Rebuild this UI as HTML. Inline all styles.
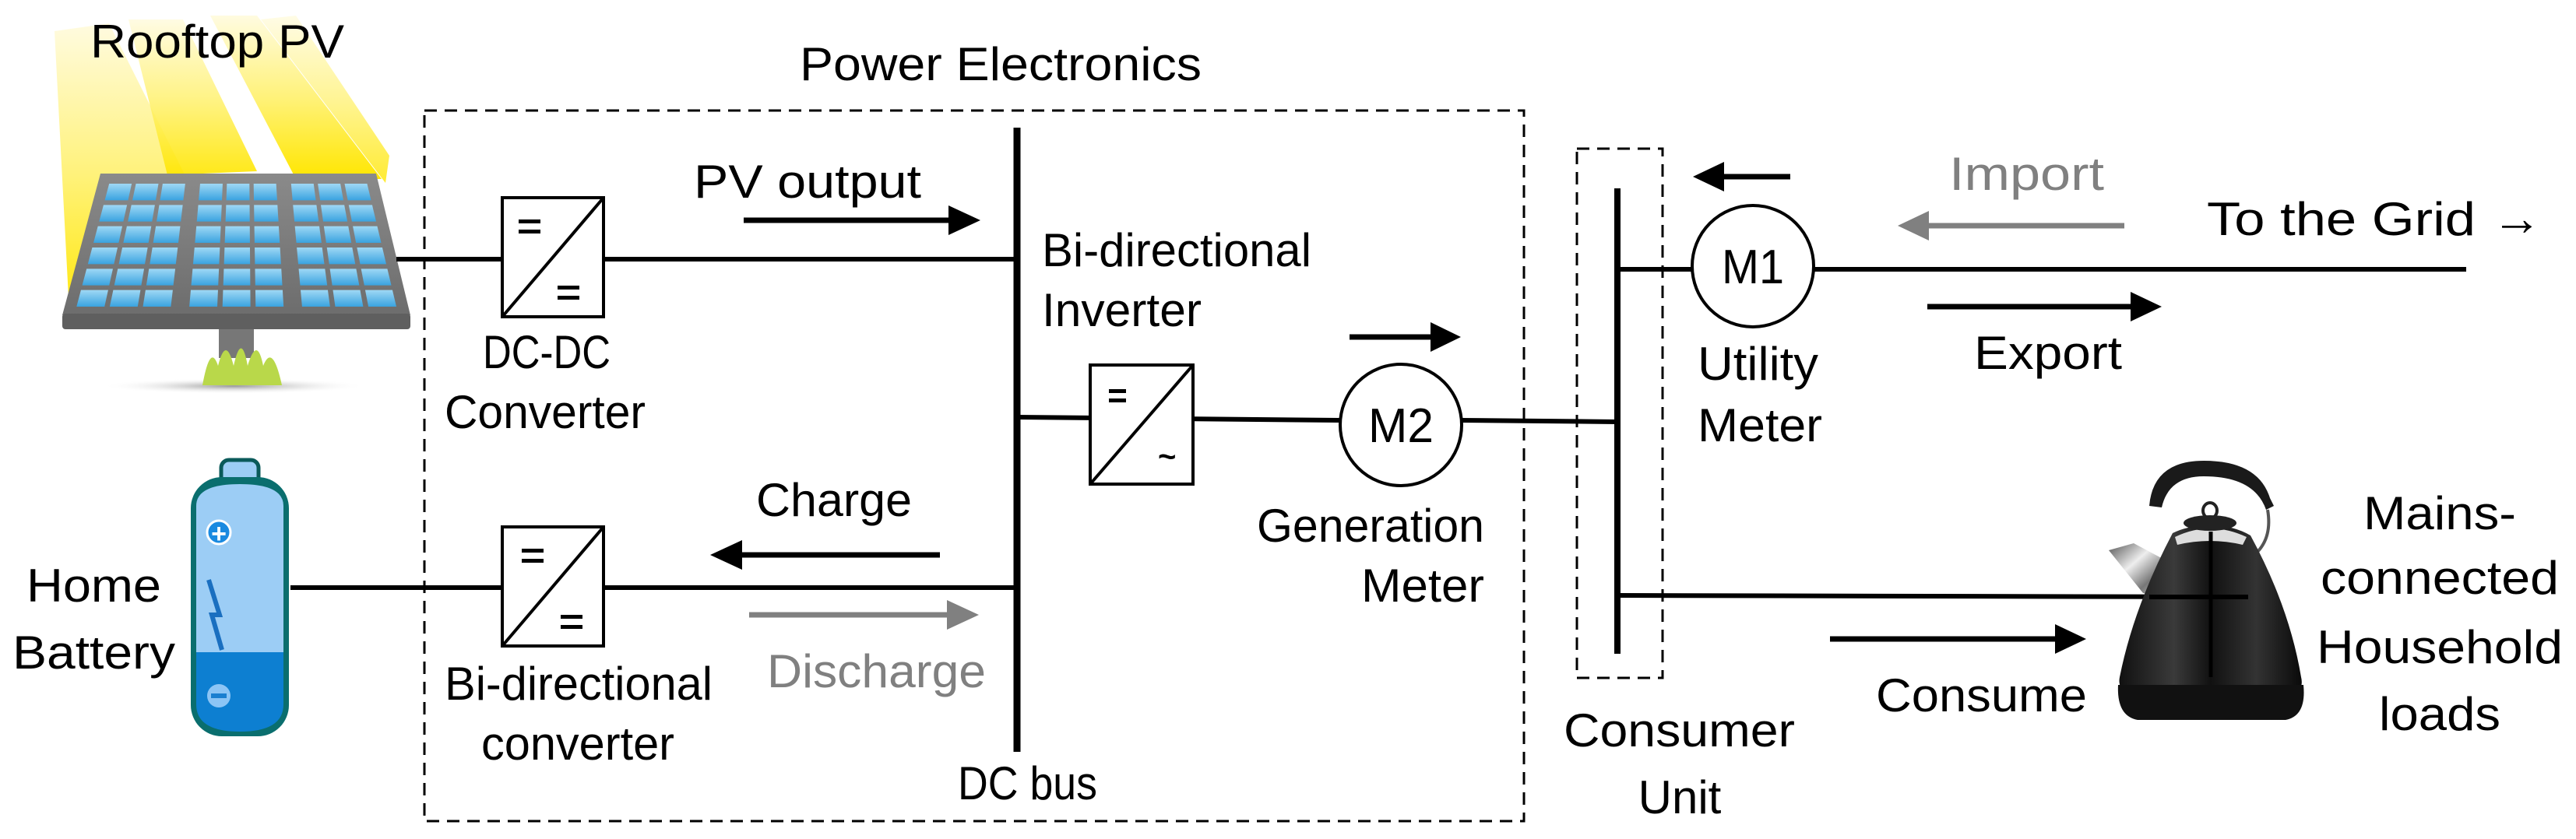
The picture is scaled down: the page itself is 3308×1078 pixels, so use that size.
<!DOCTYPE html>
<html><head><meta charset="utf-8"><style>
html,body{margin:0;padding:0;background:#fff;}
svg{display:block;}
text{font-family:"Liberation Sans",sans-serif;font-size:60px;fill:#000;}
</style></head><body>
<svg width="3308" height="1078" viewBox="0 0 3308 1078" xmlns="http://www.w3.org/2000/svg">
<defs>
<linearGradient id="sun" x1="0" y1="0" x2="0" y2="1">
<stop offset="0" stop-color="#fffbe0"/><stop offset="0.5" stop-color="#fff27a"/><stop offset="1" stop-color="#ffe600"/></linearGradient>
<linearGradient id="cell" x1="0" y1="0" x2="0" y2="1">
<stop offset="0" stop-color="#9fd8f5"/><stop offset="1" stop-color="#3aa3e0"/></linearGradient>
<linearGradient id="frame" x1="0" y1="0" x2="0" y2="1">
<stop offset="0" stop-color="#8a8a8a"/><stop offset="1" stop-color="#6d6d6d"/></linearGradient>
<radialGradient id="shadow"><stop offset="0" stop-color="#999"/><stop offset="1" stop-color="#fff" stop-opacity="0"/></radialGradient>
<linearGradient id="kettle" x1="0" y1="0" x2="1" y2="0">
<stop offset="0" stop-color="#111"/><stop offset="0.3" stop-color="#3a3a3a"/><stop offset="0.5" stop-color="#111"/><stop offset="0.75" stop-color="#333"/><stop offset="1" stop-color="#0a0a0a"/></linearGradient>
<linearGradient id="steel" x1="0" y1="0" x2="1" y2="1">
<stop offset="0" stop-color="#555"/><stop offset="0.4" stop-color="#eee"/><stop offset="0.7" stop-color="#777"/><stop offset="1" stop-color="#ccc"/></linearGradient>
</defs>

<!-- sun rays -->
<polygon points="70,40 140,30 240,230 110,300 90,420" fill="url(#sun)"/>
<polygon points="165,25 235,25 330,220 215,225" fill="url(#sun)" opacity="0.9"/>
<polygon points="270,20 330,20 490,230 380,230" fill="url(#sun)"/>
<polygon points="335,25 380,20 500,200 495,235" fill="url(#sun)" opacity="0.8"/>

<!-- solar panel -->
<rect x="281" y="415" width="45" height="45" fill="#777"/>
<ellipse cx="300" cy="496" rx="170" ry="10" fill="url(#shadow)"/>
<path d="M260,495 Q270,440 280,470 Q290,430 300,470 Q310,425 318,470 Q330,430 338,470 Q350,440 362,495 Z" fill="#b9d84a"/>
<polygon points="129,223 483,223 527,405 80,405" fill="url(#frame)"/>
<rect x="80" y="403" width="447" height="20" rx="4" fill="#5f5f5f"/>
<g id="cells" fill="url(#cell)"></g>

<!-- battery -->
<rect x="284" y="591" width="48" height="32" rx="10" fill="#9ccdf5" stroke="#0a5a5a" stroke-width="5"/>
<rect x="245" y="613" width="126" height="333" rx="40" fill="#0a6e6e"/>
<path d="M252,650 Q252,622 308,622 Q364,622 364,650 L364,838 L252,838 Z" fill="#9ccdf5"/>
<path d="M252,838 L364,838 L364,905 Q364,940 308,940 Q252,940 252,905 Z" fill="#0d7fd1"/>
<circle cx="281" cy="684" r="15" fill="#1a8ae0" stroke="#fff" stroke-width="3"/>
<text x="281" y="697" text-anchor="middle" style="font-size:34px;fill:#fff;font-weight:bold">+</text>
<circle cx="281" cy="894" r="15" fill="#8cc5f5"/>
<rect x="271" y="891" width="20" height="6" fill="#1a7fd0"/>
<polyline points="268,745 282,790 272,790 285,835" fill="none" stroke="#1a6fc0" stroke-width="6"/>

<!-- Power electronics dashed box -->
<rect x="545" y="142" width="1412" height="913" fill="none" stroke="#000" stroke-width="3" stroke-dasharray="16,10"/>
<!-- consumer unit dashed box -->
<rect x="2025" y="191" width="110" height="680" fill="none" stroke="#000" stroke-width="3" stroke-dasharray="16,10"/>

<!-- lines -->
<g stroke="#000" stroke-width="6" fill="none">
<line x1="509" y1="333" x2="1306" y2="333"/>
<line x1="373" y1="755" x2="1306" y2="755"/>
<line x1="1306" y1="536" x2="1721" y2="540"/>
<line x1="1877" y1="540" x2="2077" y2="542"/>
<line x1="2077" y1="346" x2="2174" y2="346"/>
<line x1="2328" y1="346" x2="3167" y2="346"/>
<line x1="2077" y1="765" x2="2887" y2="767"/>
</g>
<line x1="1306" y1="164" x2="1306" y2="966" stroke="#000" stroke-width="9"/>
<line x1="2077" y1="242" x2="2077" y2="840" stroke="#000" stroke-width="8"/>

<!-- converter boxes -->
<g stroke="#000" stroke-width="4" fill="#fff">
<rect x="645" y="254" width="130" height="153"/>
<rect x="645" y="677" width="130" height="153"/>
<rect x="1400" y="469" width="132" height="153"/>
</g>
<g stroke="#000" stroke-width="4">
<line x1="645" y1="407" x2="775" y2="254"/>
<line x1="645" y1="830" x2="775" y2="677"/>
<line x1="1400" y1="622" x2="1532" y2="469"/>
</g>
<g fill="#000">
<rect x="666" y="282" width="28" height="5"/><rect x="666" y="295" width="28" height="5"/>
<rect x="716" y="367" width="28" height="5"/><rect x="716" y="380" width="28" height="5"/>
<rect x="670" y="705" width="28" height="5"/><rect x="670" y="718" width="28" height="5"/>
<rect x="720" y="790" width="28" height="5"/><rect x="720" y="803" width="28" height="5"/>
<rect x="1424" y="500" width="22" height="5"/><rect x="1424" y="512" width="22" height="5"/>
</g>
<text x="1487" y="600" style="font-size:40px;font-weight:bold">~</text>

<!-- meters -->
<circle cx="1799" cy="546" r="78" fill="#fff" stroke="#000" stroke-width="4"/>
<text x="1799" y="568" text-anchor="middle" textLength="84" lengthAdjust="spacingAndGlyphs" style="font-size:62px">M2</text>
<circle cx="2251" cy="342" r="78" fill="#fff" stroke="#000" stroke-width="4"/>
<text x="2251" y="364" text-anchor="middle" textLength="80" lengthAdjust="spacingAndGlyphs" style="font-size:62px">M1</text>

<!-- arrows -->
<g stroke-width="7">
<line x1="955" y1="283" x2="1222" y2="283" stroke="#000"/>
<polygon points="1259,283 1218,264 1218,302" fill="#000"/>
<line x1="950" y1="713" x2="1207" y2="713" stroke="#000"/>
<polygon points="912,713 953,694 953,732" fill="#000"/>
<line x1="962" y1="790" x2="1220" y2="790" stroke="#808080"/>
<polygon points="1257,790 1216,771 1216,809" fill="#808080"/>
<line x1="1733" y1="433" x2="1840" y2="433" stroke="#000"/>
<polygon points="1876,433 1837,414 1837,452" fill="#000"/>
<line x1="2212" y1="227" x2="2299" y2="227" stroke="#000"/>
<polygon points="2174,227 2214,208 2214,246" fill="#000"/>
<line x1="2475" y1="290" x2="2728" y2="290" stroke="#808080"/>
<polygon points="2437,290 2477,271 2477,309" fill="#808080"/>
<line x1="2475" y1="394" x2="2740" y2="394" stroke="#000"/>
<polygon points="2776,394 2736,375 2736,413" fill="#000"/>
<line x1="2350" y1="821" x2="2642" y2="821" stroke="#000"/>
<polygon points="2679,821 2639,802 2639,840" fill="#000"/>
</g>

<!-- kettle -->
<path d="M2760,650 Q2765,592 2830,592 Q2900,592 2915,640 L2920,650 L2910,655 Q2895,612 2830,612 Q2785,612 2776,652 Z" fill="#1a1a1a"/>
<path d="M2912,655 Q2918,690 2898,710" fill="none" stroke="#555" stroke-width="4"/>
<path d="M2708,707 L2740,698 L2785,722 L2770,765 L2752,762 Z" fill="url(#steel)"/>
<path d="M2790,685 Q2810,675 2838,675 Q2868,675 2890,688 Q2940,780 2955,870 Q2960,890 2935,895 L2745,895 Q2718,890 2722,870 Q2740,780 2790,685 Z" fill="url(#kettle)"/>
<path d="M2793,690 Q2838,668 2885,690 L2880,700 Q2838,690 2796,700 Z" fill="#ddd"/>
<ellipse cx="2838" cy="672" rx="34" ry="10" fill="#222"/>
<ellipse cx="2838" cy="656" rx="9" ry="10" fill="none" stroke="#222" stroke-width="4"/>
<path d="M2720,880 L2958,880 Q2962,920 2935,925 L2745,925 Q2718,920 2720,880 Z" fill="#111"/>
<line x1="2839" y1="683" x2="2839" y2="870" stroke="#000" stroke-width="5"/>
<line x1="2760" y1="767" x2="2887" y2="767" stroke="#000" stroke-width="6"/>

<!-- text -->
<g lengthAdjust="spacingAndGlyphs">
<text x="116" y="74" textLength="326" lengthAdjust="spacingAndGlyphs">Rooftop PV</text>
<text x="1027" y="103" textLength="516" lengthAdjust="spacingAndGlyphs">Power Electronics</text>
<text x="891" y="254" textLength="292" lengthAdjust="spacingAndGlyphs">PV output</text>
<text x="620" y="473" textLength="164" lengthAdjust="spacingAndGlyphs">DC-DC</text>
<text x="571" y="550" textLength="258" lengthAdjust="spacingAndGlyphs">Converter</text>
<text x="1338" y="342" textLength="346" lengthAdjust="spacingAndGlyphs">Bi-directional</text>
<text x="1338" y="419" textLength="205" lengthAdjust="spacingAndGlyphs">Inverter</text>
<text x="971" y="663" textLength="200" lengthAdjust="spacingAndGlyphs">Charge</text>
<text x="985" y="883" textLength="281" lengthAdjust="spacingAndGlyphs" style="fill:#808080">Discharge</text>
<text x="571" y="899" textLength="344" lengthAdjust="spacingAndGlyphs">Bi-directional</text>
<text x="618" y="976" textLength="248" lengthAdjust="spacingAndGlyphs">converter</text>
<text x="1230" y="1027" textLength="179" lengthAdjust="spacingAndGlyphs">DC bus</text>
<text x="34" y="773" textLength="173" lengthAdjust="spacingAndGlyphs">Home</text>
<text x="16" y="859" textLength="209" lengthAdjust="spacingAndGlyphs">Battery</text>
<text x="1614" y="696" textLength="292" lengthAdjust="spacingAndGlyphs">Generation</text>
<text x="1748" y="773" textLength="158" lengthAdjust="spacingAndGlyphs">Meter</text>
<text x="2008" y="959" textLength="297" lengthAdjust="spacingAndGlyphs">Consumer</text>
<text x="2157" y="1045" text-anchor="middle">Unit</text>
<text x="2180" y="488" textLength="155" lengthAdjust="spacingAndGlyphs">Utility</text>
<text x="2180" y="567" textLength="160" lengthAdjust="spacingAndGlyphs">Meter</text>
<text x="2503" y="244" textLength="199" lengthAdjust="spacingAndGlyphs" style="fill:#808080">Import</text>
<text x="2834" y="302" textLength="345" lengthAdjust="spacingAndGlyphs">To the Grid</text>
<text x="3200" y="302" style="font-size:64px">→</text>
<text x="2535" y="474" textLength="190" lengthAdjust="spacingAndGlyphs">Export</text>
<text x="2409" y="914" textLength="271" lengthAdjust="spacingAndGlyphs">Consume</text>
<text x="3133" y="680" text-anchor="middle" textLength="196" lengthAdjust="spacingAndGlyphs">Mains-</text>
<text x="3133" y="763" text-anchor="middle" textLength="306" lengthAdjust="spacingAndGlyphs">connected</text>
<text x="3133" y="852" text-anchor="middle" textLength="316" lengthAdjust="spacingAndGlyphs">Household</text>
<text x="3133" y="938" text-anchor="middle" textLength="156" lengthAdjust="spacingAndGlyphs">loads</text>
</g>
</svg>
<script>
(function(){
var g=document.getElementById('cells'),ns='http://www.w3.org/2000/svg';
var rows=6,cols=9,top=233,bot=397;
function xl(y){return 129+(80-129)*(y-223)/(405-223)+12;}
function xr(y){return 483+(527-483)*(y-223)/(405-223)-12;}
for(var r=0;r<rows;r++){
 var y0=top+(bot-top)*r/rows+3,y1=top+(bot-top)*(r+1)/rows-3;
 for(var c=0;c<cols;c++){
  var grp=Math.floor(c/3);
  function px(y,f){var L=xl(y),R=xr(y);return L+(R-L)*f;}
  var f0=(c+grp*0.4)/(cols+0.8)+0.008,f1=(c+1+grp*0.4)/(cols+0.8)-0.008;
  var p=document.createElementNS(ns,'polygon');
  p.setAttribute('points',px(y0,f0)+','+y0+' '+px(y0,f1)+','+y0+' '+px(y1,f1)+','+y1+' '+px(y1,f0)+','+y1);
  g.appendChild(p);
 }
}
})();
</script>
</body></html>
